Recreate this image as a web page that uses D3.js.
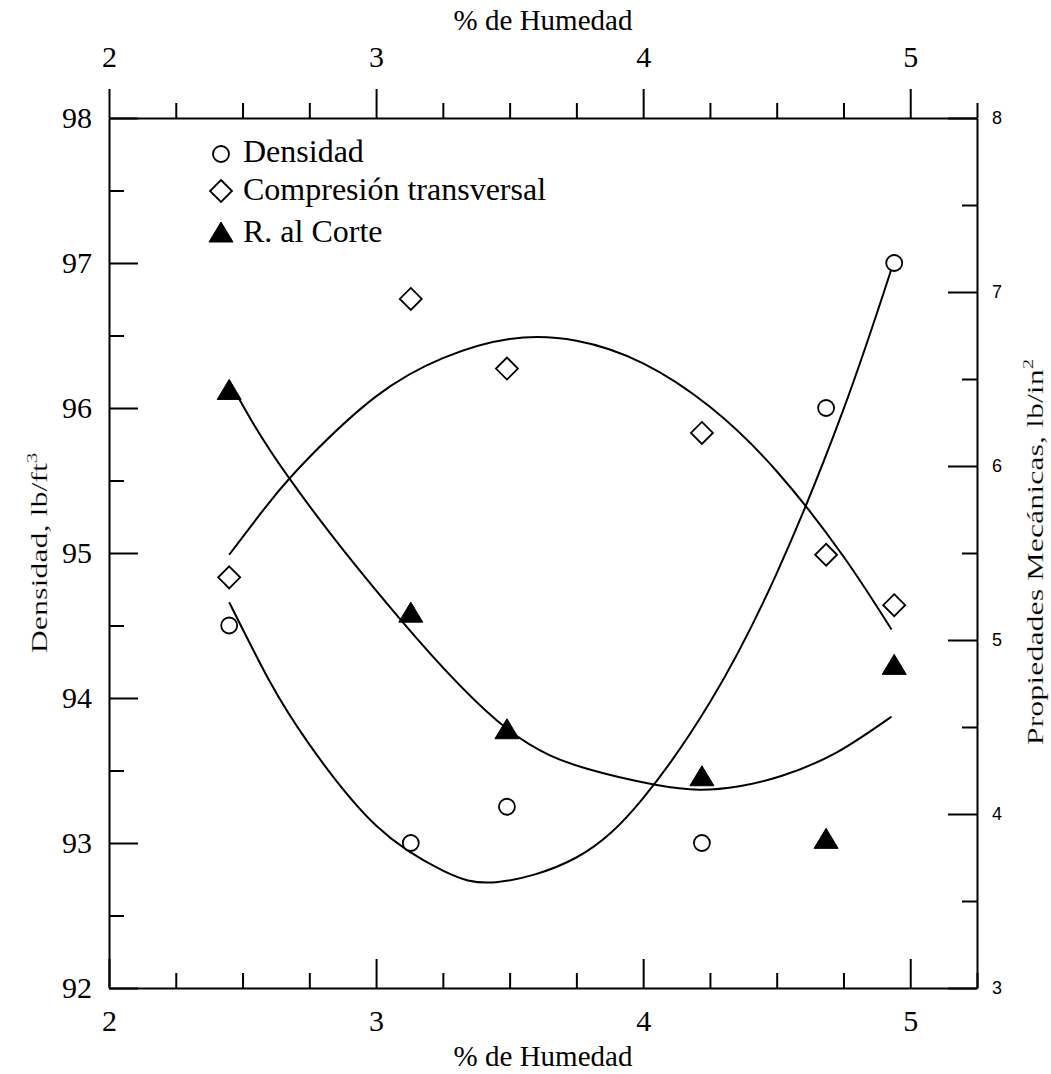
<!DOCTYPE html>
<html><head><meta charset="utf-8">
<script src="https://cdn.jsdelivr.net/npm/d3@7"></script>
<style>
html,body{margin:0;padding:0;background:#fff;}
svg{display:block;}
</style></head>
<body>
<svg id="chart" width="1051" height="1074"></svg>
<script>
// ---- data ----
const moisture = [2.45, 3.13, 3.49, 4.22, 4.685, 4.94];
const density = [94.5, 93.0, 93.25, 93.0, 96.0, 97.0];
const compression = [5.36, 6.96, 6.56, 6.19, 5.49, 5.20];
const shear = [6.44, 5.16, 4.49, 4.22, 3.86, 4.86];

// fitted trend lines as (moisture, value) pairs
const densityCurve = [[2.45,94.66],[2.6,94.12],[2.75,93.68],[3.0,93.12],[3.25,92.81],[3.45,92.73],[3.75,92.90],[4.0,93.31],[4.25,93.97],[4.5,94.86],[4.75,95.99],[4.93,96.96]];
const compressionCurve = [[2.45,5.49],[2.6,5.79],[2.75,6.05],[3.0,6.40],[3.25,6.62],[3.5,6.73],[3.75,6.72],[4.0,6.59],[4.25,6.34],[4.5,5.97],[4.75,5.48],[4.93,5.06]];
const shearCurve = [[2.45,6.49],[2.67,5.94],[3.09,5.12],[3.49,4.49],[3.79,4.26],[4.04,4.17],[4.21,4.14],[4.36,4.16],[4.52,4.22],[4.72,4.35],[4.93,4.56]];

const xMajorTicks = [2, 3, 4, 5];
const yLeftMajorTicks = [92, 93, 94, 95, 96, 97, 98];
const yRightMajorTicks = [3, 4, 5, 6, 7, 8];
const legendLabels = ["Densidad", "Compresión transversal", "R. al Corte"];
const xTitle = "% de Humedad";
const yLeftTitle = "Densidad, lb/ft";
const yRightTitle = "Propiedades Mecánicas, lb/in";

// ---- layout ----
const L = 109, R = 977, T = 118, B = 988;
const serif = "'Liberation Serif','Times New Roman',serif";
const sans = "'Liberation Sans',Arial,sans-serif";

const svg = d3.select("#chart");
const x = d3.scaleLinear().domain([2, 5.25]).range([L, R]);
const yL = d3.scaleLinear().domain([92, 98]).range([B, T]);
const yR = d3.scaleLinear().domain([3, 8]).range([B, T]);

const xMinor = d3.range(2, 5.26, 0.25).filter(v => Math.abs(v - Math.round(v)) > 1e-6);
const yLMinor = d3.range(92, 98.01, 0.5).filter(v => Math.abs(v - Math.round(v)) > 1e-6);
const yRMinor = d3.range(3, 8.01, 0.5).filter(v => Math.abs(v - Math.round(v)) > 1e-6);

function styleAxis(g, font, size) {
  g.selectAll("path.domain").attr("stroke", "#000").attr("stroke-width", 2);
  g.selectAll(".tick line").attr("stroke", "#000").attr("stroke-width", 2);
  g.selectAll("text").attr("font-family", font).attr("font-size", size).attr("fill", "#000");
}

// bottom
const gB = svg.append("g").attr("transform", `translate(0,${B})`)
  .call(d3.axisBottom(x).tickValues(xMajorTicks).tickSize(-29).tickSizeOuter(0).tickPadding(22).tickFormat(d3.format("d")));
styleAxis(gB, serif, 30);
const gBm = svg.append("g").attr("transform", `translate(0,${B})`)
  .call(d3.axisBottom(x).tickValues(xMinor).tickSize(-15).tickSizeOuter(0).tickFormat(""));
styleAxis(gBm, serif, 30); gBm.select("path.domain").remove();

// top
const gT = svg.append("g").attr("transform", `translate(0,${T})`)
  .call(d3.axisTop(x).tickValues(xMajorTicks).tickSize(29).tickSizeOuter(0).tickPadding(22).tickFormat(d3.format("d")));
styleAxis(gT, serif, 30);
const gTm = svg.append("g").attr("transform", `translate(0,${T})`)
  .call(d3.axisTop(x).tickValues(xMinor).tickSize(15).tickSizeOuter(0).tickFormat(""));
styleAxis(gTm, serif, 30); gTm.select("path.domain").remove();

// left
const gLa = svg.append("g").attr("transform", `translate(${L},0)`)
  .call(d3.axisLeft(yL).tickValues(yLeftMajorTicks).tickSize(-29).tickSizeOuter(0).tickPadding(17).tickFormat(d3.format("d")));
styleAxis(gLa, serif, 30);
const gLm = svg.append("g").attr("transform", `translate(${L},0)`)
  .call(d3.axisLeft(yL).tickValues(yLMinor).tickSize(-15).tickSizeOuter(0).tickFormat(""));
styleAxis(gLm, serif, 30); gLm.select("path.domain").remove();

// right
const gRa = svg.append("g").attr("transform", `translate(${R},0)`)
  .call(d3.axisRight(yR).tickValues(yRightMajorTicks).tickSize(-29).tickSizeOuter(0).tickPadding(15).tickFormat(d3.format("d")));
styleAxis(gRa, sans, 18);
const gRm = svg.append("g").attr("transform", `translate(${R},0)`)
  .call(d3.axisRight(yR).tickValues(yRMinor).tickSize(-15).tickSizeOuter(0).tickFormat(""));
styleAxis(gRm, sans, 18); gRm.select("path.domain").remove();

// titles
svg.append("text").attr("x", (L + R) / 2).attr("y", 30).attr("text-anchor", "middle")
  .attr("font-family", serif).attr("font-size", 29).text(xTitle);
svg.append("text").attr("x", (L + R) / 2).attr("y", 1066).attr("text-anchor", "middle")
  .attr("font-family", serif).attr("font-size", 29).text(xTitle);

const tl = svg.append("text").attr("transform", `translate(47,${(T + B) / 2}) rotate(-90) scale(1,0.72)`)
  .attr("text-anchor", "middle").attr("font-family", serif).attr("font-size", 32)
  .attr("stroke", "#fff").attr("stroke-width", 0.25);
tl.append("tspan").text(yLeftTitle);
tl.append("tspan").attr("dy", -14).attr("font-size", 21).text("3");

const tr = svg.append("text").attr("transform", `translate(1043,${(T + B) / 2 - 1}) rotate(-90) scale(1,0.72)`)
  .attr("text-anchor", "middle").attr("font-family", serif).attr("font-size", 32)
  .attr("stroke", "#fff").attr("stroke-width", 0.25);
tr.append("tspan").text(yRightTitle);
tr.append("tspan").attr("dy", -14).attr("font-size", 21).text("2");

// curves
const lineL = d3.line().x(d => x(d[0])).y(d => yL(d[1])).curve(d3.curveNatural);
const lineR = d3.line().x(d => x(d[0])).y(d => yR(d[1])).curve(d3.curveNatural);
svg.append("path").attr("d", lineL(densityCurve)).attr("fill", "none").attr("stroke", "#000").attr("stroke-width", 2);
svg.append("path").attr("d", lineR(compressionCurve)).attr("fill", "none").attr("stroke", "#000").attr("stroke-width", 2);
svg.append("path").attr("d", lineR(shearCurve)).attr("fill", "none").attr("stroke", "#000").attr("stroke-width", 2);

// markers
function circleM(g, cx, cy) {
  g.append("circle").attr("cx", cx).attr("cy", cy).attr("r", 8)
    .attr("fill", "#fff").attr("stroke", "#000").attr("stroke-width", 1.8);
}
function diamondM(g, cx, cy) {
  const s = 11;
  g.append("path").attr("d", `M${cx},${cy - s}L${cx + s},${cy}L${cx},${cy + s}L${cx - s},${cy}Z`)
    .attr("fill", "#fff").attr("stroke", "#000").attr("stroke-width", 1.8);
}
function triM(g, cx, cy) {
  g.append("path").attr("d", `M${cx},${cy - 10}L${cx + 12},${cy + 10}L${cx - 12},${cy + 10}Z`)
    .attr("fill", "#000").attr("stroke", "#000").attr("stroke-width", 1);
}
const gm = svg.append("g");
moisture.forEach((m, i) => {
  circleM(gm, x(m), yL(density[i]));
  diamondM(gm, x(m), yR(compression[i]));
  triM(gm, x(m), yR(shear[i]));
});

// legend
const lg = svg.append("g");
const lx = 221, ly = [154, 191, 232];
circleM(lg, lx, ly[0]);
diamondM(lg, lx, ly[1]);
triM(lg, lx, ly[2]);
const lbase = [162, 200, 242];
legendLabels.forEach((t, i) => {
  lg.append("text").attr("x", 243).attr("y", lbase[i]).attr("font-family", serif)
    .attr("font-size", 32).text(t);
});
</script>
</body></html>
